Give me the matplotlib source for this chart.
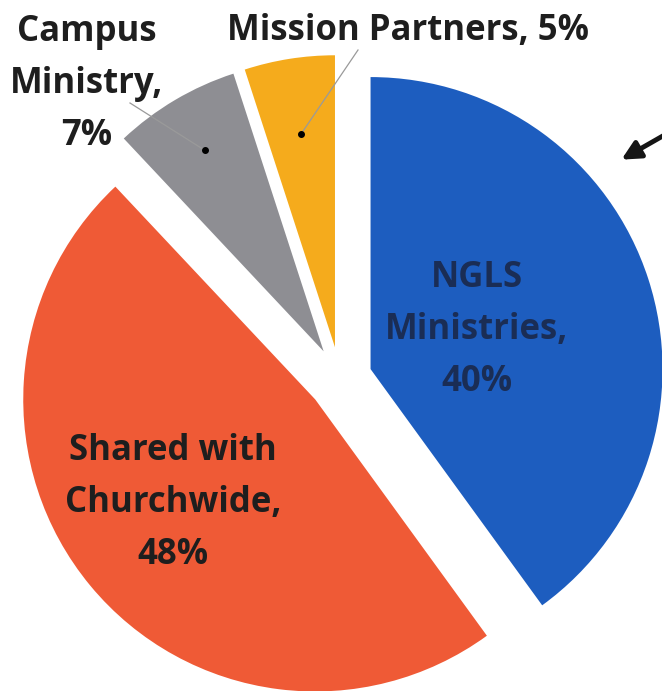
import numpy as np
import matplotlib
matplotlib.use('Agg')
import matplotlib.pyplot as plt

plt.rcParams['font.family'] = ['Open Sans', 'DejaVu Sans']

# data
labels = ['NGLS\nMinistries,\n40%', 'Shared with\nChurchwide,\n48%', 'Campus\nMinistry,\n7%', 'Mission Partners, 5%']
values = [40, 48, 7, 5]
colors = ['#1D5DBF', '#EF5A36', '#8E8E93', '#F5AB1C']

# pixel -> data helper (pie radius 1 == 292 px, centre at 340,379 px)
R = 292.0
CX, CY = 340.0, 379.0
def px(x, y):
    return ((x - CX) / R, (CY - y) / R)

fig = plt.figure(figsize=(6.62, 6.91), dpi=100)
ax = fig.add_axes([0, 0, 1, 1])

wedges, _ = ax.pie(values, colors=colors, startangle=90, counterclock=False,
                   explode=[0.11] * 4, radius=1,
                   wedgeprops=dict(linewidth=0))

ax.set_xlim(-CX / R, (662 - CX) / R)
ax.set_ylim(-(691 - CY) / R, CY / R)
ax.set_aspect('auto')
ax.axis('off')

fs = 25
ls = 1.6
# labels inside
ax.text(*px(477, 330), labels[0], ha='center', va='center', fontsize=fs,
        fontweight='bold', color='#1a2d55', linespacing=ls)
ax.text(*px(173, 503), labels[1], ha='center', va='center', fontsize=fs,
        fontweight='bold', color='#1e1e1e', linespacing=ls)
# labels outside
ax.text(*px(87, 84), labels[2], ha='center', va='center', fontsize=fs,
        fontweight='bold', color='#1e1e1e', linespacing=ls)
ax.text(*px(408, 31), labels[3], ha='center', va='center', fontsize=fs,
        fontweight='bold', color='#1e1e1e')

# leader lines with dots
def wedge_point(w, frac):
    th = np.deg2rad((w.theta1 + w.theta2) / 2)
    cx, cy = w.center
    return cx + frac * np.cos(th), cy + frac * np.sin(th)

for w, frac, start in [(wedges[2], 0.80, px(130, 103)), (wedges[3], 0.74, px(358, 50))]:
    pt = wedge_point(w, frac)
    ax.plot([start[0], pt[0]], [start[1], pt[1]], color='#9a9a9a', lw=0.9)
    ax.plot(*pt, 'o', color='black', ms=4)

# arrow at top right
ax.annotate('', xy=px(619, 161), xytext=px(668, 133),
            arrowprops=dict(arrowstyle='-|>', lw=3.5, color='#151515',
                            mutation_scale=28),
            annotation_clip=False)

fig.savefig('out.png', dpi=100)
